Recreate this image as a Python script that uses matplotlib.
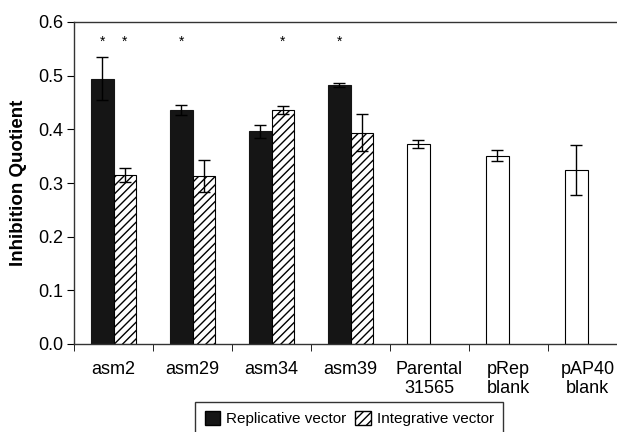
import numpy as np
import matplotlib.pyplot as plt
from matplotlib.patches import Patch

plt.rcParams["font.family"] = ["Liberation Sans", "DejaVu Sans"]
plt.rcParams["hatch.linewidth"] = 1.0

groups = ["asm2", "asm29", "asm34", "asm39", "Parental\n31565", "pRep\nblank", "pAP40\nblank"]

# paired strains
rep_vals = [0.494, 0.436, 0.396, 0.483]
rep_err = [0.040, 0.009, 0.012, 0.004]
int_vals = [0.315, 0.313, 0.436, 0.394]
int_err = [0.013, 0.030, 0.008, 0.035]

# controls
ctrl_vals = [0.373, 0.351, 0.324]
ctrl_err = [0.008, 0.010, 0.047]

# significance marks: (group index, series offset sign)
stars = [(0, -1), (0, 1), (1, -1), (2, 1), (3, -1)]
star_y = 0.563

fig = plt.figure(figsize=(6.17, 4.32), dpi=100)
ax = fig.add_axes([74 / 617, 88 / 432, 553 / 617, 322 / 432])

w = 0.28
off = 0.14
x_pair = np.arange(4) + 0.5
x_ctrl = np.arange(4, 7) + 0.5

err_kw = dict(ecolor="black", elinewidth=1.0, capsize=4, capthick=1.0)
ax.bar(x_pair - off, rep_vals, w, yerr=rep_err, color="#151515",
       edgecolor="#151515", linewidth=0.8, error_kw=err_kw)
ax.bar(x_pair + off, int_vals, w, yerr=int_err, color="white",
       edgecolor="black", hatch="////", linewidth=0.8, error_kw=err_kw)
ax.bar(x_ctrl - off, ctrl_vals, w, yerr=ctrl_err, color="white",
       edgecolor="black", linewidth=0.8, error_kw=err_kw)

for gi, sgn in stars:
    ax.text(gi + 0.5 + sgn * off, star_y, "*", ha="center", va="center", fontsize=10)

fs = 13
ax.set_xlim(0, 7)
ax.set_ylim(0, 0.6)
ax.set_yticks(np.arange(0, 0.61, 0.1))
ax.set_yticklabels([f"{v:.1f}" for v in np.arange(0, 0.61, 0.1)], fontsize=fs)
ax.set_xticks(np.arange(0, 8), minor=True)
ax.set_xticks(np.arange(7) + 0.5)
ax.set_xticklabels(groups, fontsize=fs, linespacing=1.15, multialignment="center")
ax.tick_params(axis="x", which="major", length=0, pad=12)
ax.tick_params(axis="x", which="minor", length=5, direction="out")
ax.tick_params(axis="y", length=5, direction="out", pad=3)
ax.set_ylabel("Inhibition Quotient", fontsize=13.5, fontweight="bold", labelpad=8)
for s in ax.spines.values():
    s.set_linewidth(1.0)
    s.set_color("#333333")

handles = [Patch(facecolor="#151515", edgecolor="black", label="Replicative vector"),
           Patch(facecolor="white", edgecolor="black", hatch="////", label="Integrative vector")]
fig.legend(handles=handles, loc="upper center", bbox_to_anchor=(0.566, 0.069), ncol=2,
           fontsize=11, frameon=True, fancybox=False, edgecolor="black",
           handlelength=1.0, handleheight=1.0, handletextpad=0.4, columnspacing=0.6,
           borderpad=0.6, borderaxespad=0)

fig.savefig("out.png", dpi=100)
